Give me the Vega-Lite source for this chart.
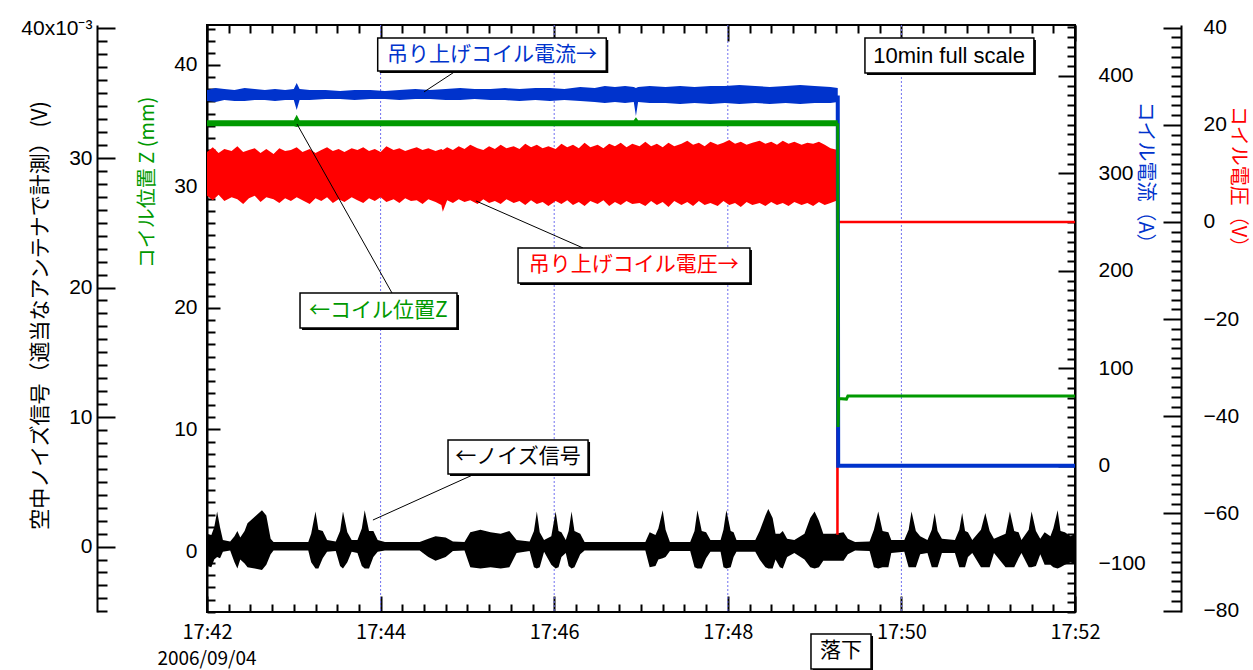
{
"$schema": "https://vega.github.io/schema/vega-lite/v6.json",
"width": 868, "height": 587,
"autosize": {"type": "none"},
"padding": {"left": 207, "top": 25, "right": 178, "bottom": 58},
"background": "white",
"config": {
  "view": {"stroke": "black", "strokeWidth": 2},
  "axis": {"labelFont": "Liberation Sans", "labelFontSize": 21, "labelColor": "black", "tickColor": "black", "tickWidth": 2, "domainColor": "black", "domainWidth": 2, "grid": false, "labelOverlap": false, "labelFlush": false, "labelBound": false, "titleFont": "Noto Sans CJK JP", "titleFontSize": 20, "titleFontWeight": "normal"}
},
"resolve": {"scale": {"y": "independent"}, "axis": {"x": "independent", "y": "independent"}},
"layer": [
{
  "data": {"values": [{"time": "2006-09-04T17:44:00"}, {"time": "2006-09-04T17:46:00"}, {"time": "2006-09-04T17:48:00"}, {"time": "2006-09-04T17:50:00"}], "format": {"parse": {"time": "date"}}},
  "mark": {"type": "rule", "color": "#7070f0", "strokeWidth": 1, "strokeDash": [2, 2]},
  "encoding": {"x": {"field": "time", "type": "temporal", "scale": {"domain": [{"year": 2006, "month": 9, "date": 4, "hours": 17, "minutes": 42}, {"year": 2006, "month": 9, "date": 4, "hours": 17, "minutes": 52}], "nice": false}, "axis": null}}
},
{
  "data": {"values": [
{"time":"2006-09-04T17:42:00","hi":1.0,"lo":-1.5},{"time":"2006-09-04T17:42:03","hi":0.9,"lo":-1.6},{"time":"2006-09-04T17:42:05","hi":1.5,"lo":-1.0},{"time":"2006-09-04T17:42:07","hi":2.7,"lo":-0.8},{"time":"2006-09-04T17:42:09","hi":1.5,"lo":-0.9},{"time":"2006-09-04T17:42:11","hi":0.5,"lo":-0.4},{"time":"2006-09-04T17:42:16","hi":0.4,"lo":-0.3},{"time":"2006-09-04T17:42:19","hi":0.8,"lo":-1.2},{"time":"2006-09-04T17:42:21","hi":1.2,"lo":-1.7},{"time":"2006-09-04T17:42:23","hi":0.7,"lo":-1.0},{"time":"2006-09-04T17:42:26","hi":1.2,"lo":-1.3},{"time":"2006-09-04T17:42:28","hi":1.8,"lo":-1.6},{"time":"2006-09-04T17:42:33","hi":2.3,"lo":-1.7},{"time":"2006-09-04T17:42:38","hi":2.8,"lo":-1.8},{"time":"2006-09-04T17:42:41","hi":2.4,"lo":-1.4},{"time":"2006-09-04T17:42:44","hi":0.6,"lo":-0.6},{"time":"2006-09-04T17:42:46","hi":0.35,"lo":-0.3},
{"time":"2006-09-04T17:43:10","hi":0.35,"lo":-0.3},{"time":"2006-09-04T17:43:12","hi":1.0,"lo":-1.2},{"time":"2006-09-04T17:43:15","hi":2.7,"lo":-1.7},{"time":"2006-09-04T17:43:17","hi":1.3,"lo":-1.7},{"time":"2006-09-04T17:43:20","hi":1.2,"lo":-0.9},{"time":"2006-09-04T17:43:23","hi":0.5,"lo":-0.4},{"time":"2006-09-04T17:43:29","hi":0.4,"lo":-0.35},{"time":"2006-09-04T17:43:32","hi":1.2,"lo":-1.5},{"time":"2006-09-04T17:43:34","hi":2.7,"lo":-1.7},{"time":"2006-09-04T17:43:37","hi":1.1,"lo":-1.2},{"time":"2006-09-04T17:43:40","hi":0.5,"lo":-0.4},{"time":"2006-09-04T17:43:44","hi":0.5,"lo":-0.5},{"time":"2006-09-04T17:43:47","hi":1.4,"lo":-1.5},{"time":"2006-09-04T17:43:49","hi":2.8,"lo":-1.7},{"time":"2006-09-04T17:43:52","hi":1.2,"lo":-1.7},{"time":"2006-09-04T17:43:55","hi":1.2,"lo":-0.8},{"time":"2006-09-04T17:43:58","hi":0.5,"lo":-0.4},
{"time":"2006-09-04T17:44:03","hi":0.35,"lo":-0.3},{"time":"2006-09-04T17:44:27","hi":0.35,"lo":-0.3},{"time":"2006-09-04T17:44:33","hi":0.6,"lo":-0.8},{"time":"2006-09-04T17:44:38","hi":0.8,"lo":-1.1},{"time":"2006-09-04T17:44:45","hi":0.7,"lo":-0.8},{"time":"2006-09-04T17:44:50","hi":0.4,"lo":-0.35},{"time":"2006-09-04T17:44:58","hi":0.35,"lo":-0.3},
{"time":"2006-09-04T17:45:02","hi":1.1,"lo":-1.6},{"time":"2006-09-04T17:45:09","hi":1.3,"lo":-1.7},{"time":"2006-09-04T17:45:16","hi":1.1,"lo":-1.6},{"time":"2006-09-04T17:45:23","hi":1.0,"lo":-1.7},{"time":"2006-09-04T17:45:29","hi":1.2,"lo":-1.6},{"time":"2006-09-04T17:45:34","hi":0.5,"lo":-0.5},{"time":"2006-09-04T17:45:43","hi":0.4,"lo":-0.35},{"time":"2006-09-04T17:45:46","hi":1.2,"lo":-1.6},{"time":"2006-09-04T17:45:48","hi":2.7,"lo":-1.7},{"time":"2006-09-04T17:45:50","hi":1.1,"lo":-1.6},{"time":"2006-09-04T17:45:53","hi":0.5,"lo":-0.4},{"time":"2006-09-04T17:45:58","hi":0.8,"lo":-1.4},
{"time":"2006-09-04T17:46:01","hi":2.7,"lo":-1.7},{"time":"2006-09-04T17:46:03","hi":1.2,"lo":-1.6},{"time":"2006-09-04T17:46:05","hi":1.1,"lo":-0.8},{"time":"2006-09-04T17:46:08","hi":0.5,"lo":-0.5},{"time":"2006-09-04T17:46:10","hi":1.2,"lo":-1.5},{"time":"2006-09-04T17:46:12","hi":2.7,"lo":-1.7},{"time":"2006-09-04T17:46:14","hi":1.2,"lo":-1.6},{"time":"2006-09-04T17:46:18","hi":1.0,"lo":-0.6},{"time":"2006-09-04T17:46:21","hi":0.35,"lo":-0.3},
{"time":"2006-09-04T17:47:03","hi":0.35,"lo":-0.3},{"time":"2006-09-04T17:47:06","hi":1.1,"lo":-1.6},{"time":"2006-09-04T17:47:10","hi":0.9,"lo":-1.5},{"time":"2006-09-04T17:47:12","hi":1.4,"lo":-1.0},{"time":"2006-09-04T17:47:15","hi":2.8,"lo":-0.9},{"time":"2006-09-04T17:47:17","hi":1.3,"lo":-0.8},{"time":"2006-09-04T17:47:20","hi":0.35,"lo":-0.35},{"time":"2006-09-04T17:47:34","hi":0.35,"lo":-0.35},{"time":"2006-09-04T17:47:37","hi":1.2,"lo":-1.6},{"time":"2006-09-04T17:47:39","hi":2.8,"lo":-1.7},{"time":"2006-09-04T17:47:42","hi":1.2,"lo":-1.7},{"time":"2006-09-04T17:47:45","hi":1.1,"lo":-0.9},{"time":"2006-09-04T17:47:48","hi":0.5,"lo":-0.4},{"time":"2006-09-04T17:47:55","hi":0.5,"lo":-0.4},{"time":"2006-09-04T17:47:57","hi":1.3,"lo":-1.6},{"time":"2006-09-04T17:47:59","hi":2.8,"lo":-1.7},
{"time":"2006-09-04T17:48:02","hi":1.2,"lo":-1.6},{"time":"2006-09-04T17:48:04","hi":1.1,"lo":-0.8},{"time":"2006-09-04T17:48:06","hi":0.5,"lo":-0.4},{"time":"2006-09-04T17:48:19","hi":0.5,"lo":-0.4},{"time":"2006-09-04T17:48:22","hi":1.2,"lo":-1.0},{"time":"2006-09-04T17:48:26","hi":2.4,"lo":-1.6},{"time":"2006-09-04T17:48:28","hi":2.9,"lo":-1.7},{"time":"2006-09-04T17:48:31","hi":2.2,"lo":-1.7},{"time":"2006-09-04T17:48:33","hi":1.0,"lo":-1.0},{"time":"2006-09-04T17:48:36","hi":1.0,"lo":-1.6},{"time":"2006-09-04T17:48:38","hi":1.2,"lo":-1.7},{"time":"2006-09-04T17:48:41","hi":0.6,"lo":-0.8},{"time":"2006-09-04T17:48:46","hi":0.5,"lo":-0.5},{"time":"2006-09-04T17:48:53","hi":1.0,"lo":-1.0},{"time":"2006-09-04T17:48:57","hi":2.2,"lo":-1.6},
{"time":"2006-09-04T17:49:00","hi":2.7,"lo":-1.7},{"time":"2006-09-04T17:49:03","hi":2.0,"lo":-1.6},{"time":"2006-09-04T17:49:06","hi":1.0,"lo":-1.1},{"time":"2006-09-04T17:49:14","hi":1.0,"lo":-1.1},{"time":"2006-09-04T17:49:20","hi":1.1,"lo":-1.1},{"time":"2006-09-04T17:49:23","hi":0.6,"lo":-0.6},{"time":"2006-09-04T17:49:28","hi":0.35,"lo":-0.3},{"time":"2006-09-04T17:49:38","hi":0.4,"lo":-0.35},{"time":"2006-09-04T17:49:41","hi":1.3,"lo":-1.6},{"time":"2006-09-04T17:49:44","hi":2.7,"lo":-1.7},{"time":"2006-09-04T17:49:47","hi":1.2,"lo":-1.6},{"time":"2006-09-04T17:49:51","hi":1.1,"lo":-1.6},{"time":"2006-09-04T17:49:53","hi":0.5,"lo":-0.5},
{"time":"2006-09-04T17:50:02","hi":0.5,"lo":-0.4},{"time":"2006-09-04T17:50:05","hi":1.3,"lo":-1.6},{"time":"2006-09-04T17:50:07","hi":2.7,"lo":-1.6},{"time":"2006-09-04T17:50:10","hi":1.2,"lo":-1.6},{"time":"2006-09-04T17:50:13","hi":0.8,"lo":-0.6},{"time":"2006-09-04T17:50:18","hi":0.5,"lo":-0.5},{"time":"2006-09-04T17:50:21","hi":1.3,"lo":-1.6},{"time":"2006-09-04T17:50:23","hi":2.6,"lo":-1.6},{"time":"2006-09-04T17:50:25","hi":1.2,"lo":-1.6},{"time":"2006-09-04T17:50:28","hi":0.6,"lo":-0.5},{"time":"2006-09-04T17:50:37","hi":0.5,"lo":-0.5},{"time":"2006-09-04T17:50:40","hi":1.3,"lo":-1.6},{"time":"2006-09-04T17:50:42","hi":2.6,"lo":-1.6},{"time":"2006-09-04T17:50:44","hi":1.2,"lo":-1.6},{"time":"2006-09-04T17:50:46","hi":1.1,"lo":-0.8},{"time":"2006-09-04T17:50:49","hi":0.5,"lo":-0.5},{"time":"2006-09-04T17:50:55","hi":1.3,"lo":-1.6},{"time":"2006-09-04T17:50:58","hi":2.6,"lo":-1.6},
{"time":"2006-09-04T17:51:01","hi":1.2,"lo":-1.6},{"time":"2006-09-04T17:51:04","hi":0.6,"lo":-0.5},{"time":"2006-09-04T17:51:12","hi":1.0,"lo":-1.6},{"time":"2006-09-04T17:51:15","hi":2.7,"lo":-1.6},{"time":"2006-09-04T17:51:18","hi":1.2,"lo":-1.6},{"time":"2006-09-04T17:51:21","hi":1.1,"lo":-0.9},{"time":"2006-09-04T17:51:23","hi":0.5,"lo":-0.5},{"time":"2006-09-04T17:51:28","hi":1.3,"lo":-1.6},{"time":"2006-09-04T17:51:30","hi":2.7,"lo":-1.6},{"time":"2006-09-04T17:51:33","hi":1.2,"lo":-1.5},{"time":"2006-09-04T17:51:36","hi":0.6,"lo":-0.6},{"time":"2006-09-04T17:51:39","hi":1.1,"lo":-1.4},{"time":"2006-09-04T17:51:43","hi":0.8,"lo":-1.4},{"time":"2006-09-04T17:51:45","hi":1.4,"lo":-1.6},{"time":"2006-09-04T17:51:48","hi":2.8,"lo":-1.7},{"time":"2006-09-04T17:51:50","hi":1.2,"lo":-1.6},{"time":"2006-09-04T17:51:53","hi":1.1,"lo":-1.4},{"time":"2006-09-04T17:51:57","hi":0.8,"lo":-1.2},{"time":"2006-09-04T17:52:00","hi":1.0,"lo":-1.4}
  ], "format": {"parse": {"time": "date"}}},
  "mark": {"type": "area", "color": "black"},
  "encoding": {
    "x": {"field": "time", "type": "temporal", "scale": {"domain": [{"year": 2006, "month": 9, "date": 4, "hours": 17, "minutes": 42}, {"year": 2006, "month": 9, "date": 4, "hours": 17, "minutes": 52}], "nice": false},
      "axis": {"orient": "bottom", "title": null, "domain": false,
        "values": [{"year":2006,"month":9,"date":4,"hours":17,"minutes":42,"seconds":0},{"year":2006,"month":9,"date":4,"hours":17,"minutes":42,"seconds":15},{"year":2006,"month":9,"date":4,"hours":17,"minutes":42,"seconds":30},{"year":2006,"month":9,"date":4,"hours":17,"minutes":42,"seconds":45},{"year":2006,"month":9,"date":4,"hours":17,"minutes":43,"seconds":0},{"year":2006,"month":9,"date":4,"hours":17,"minutes":43,"seconds":15},{"year":2006,"month":9,"date":4,"hours":17,"minutes":43,"seconds":30},{"year":2006,"month":9,"date":4,"hours":17,"minutes":43,"seconds":45},{"year":2006,"month":9,"date":4,"hours":17,"minutes":44,"seconds":0},{"year":2006,"month":9,"date":4,"hours":17,"minutes":44,"seconds":15},{"year":2006,"month":9,"date":4,"hours":17,"minutes":44,"seconds":30},{"year":2006,"month":9,"date":4,"hours":17,"minutes":44,"seconds":45},{"year":2006,"month":9,"date":4,"hours":17,"minutes":45,"seconds":0},{"year":2006,"month":9,"date":4,"hours":17,"minutes":45,"seconds":15},{"year":2006,"month":9,"date":4,"hours":17,"minutes":45,"seconds":30},{"year":2006,"month":9,"date":4,"hours":17,"minutes":45,"seconds":45},{"year":2006,"month":9,"date":4,"hours":17,"minutes":46,"seconds":0},{"year":2006,"month":9,"date":4,"hours":17,"minutes":46,"seconds":15},{"year":2006,"month":9,"date":4,"hours":17,"minutes":46,"seconds":30},{"year":2006,"month":9,"date":4,"hours":17,"minutes":46,"seconds":45},{"year":2006,"month":9,"date":4,"hours":17,"minutes":47,"seconds":0},{"year":2006,"month":9,"date":4,"hours":17,"minutes":47,"seconds":15},{"year":2006,"month":9,"date":4,"hours":17,"minutes":47,"seconds":30},{"year":2006,"month":9,"date":4,"hours":17,"minutes":47,"seconds":45},{"year":2006,"month":9,"date":4,"hours":17,"minutes":48,"seconds":0},{"year":2006,"month":9,"date":4,"hours":17,"minutes":48,"seconds":15},{"year":2006,"month":9,"date":4,"hours":17,"minutes":48,"seconds":30},{"year":2006,"month":9,"date":4,"hours":17,"minutes":48,"seconds":45},{"year":2006,"month":9,"date":4,"hours":17,"minutes":49,"seconds":0},{"year":2006,"month":9,"date":4,"hours":17,"minutes":49,"seconds":15},{"year":2006,"month":9,"date":4,"hours":17,"minutes":49,"seconds":30},{"year":2006,"month":9,"date":4,"hours":17,"minutes":49,"seconds":45},{"year":2006,"month":9,"date":4,"hours":17,"minutes":50,"seconds":0},{"year":2006,"month":9,"date":4,"hours":17,"minutes":50,"seconds":15},{"year":2006,"month":9,"date":4,"hours":17,"minutes":50,"seconds":30},{"year":2006,"month":9,"date":4,"hours":17,"minutes":50,"seconds":45},{"year":2006,"month":9,"date":4,"hours":17,"minutes":51,"seconds":0},{"year":2006,"month":9,"date":4,"hours":17,"minutes":51,"seconds":15},{"year":2006,"month":9,"date":4,"hours":17,"minutes":51,"seconds":30},{"year":2006,"month":9,"date":4,"hours":17,"minutes":51,"seconds":45},{"year":2006,"month":9,"date":4,"hours":17,"minutes":52,"seconds":0}],
        "tickSize": {"condition": {"test": "seconds(datum.value) === 0 && minutes(datum.value) % 2 === 0", "value": -16}, "value": -8}, "labelPadding": 26, "labelFont": "Noto Sans CJK JP", "labelFontSize": 20,
        "labelExpr": "(seconds(datum.value) === 0 && minutes(datum.value) % 2 === 0) ? timeFormat(datum.value, '%H:%M') : ''"}},
    "y": {"field": "hi", "type": "quantitative", "scale": {"domain": [-5.05, 40.27], "nice": false, "zero": false},
      "axis": {"orient": "left", "offset": 110, "values": [-5,-4,-3,-2,-1,0,1,2,3,4,5,6,7,8,9,10,11,12,13,14,15,16,17,18,19,20,21,22,23,24,25,26,27,28,29,30,31,32,33,34,35,36,37,38,39,40], "labelExpr": "datum.value % 10 !== 0 ? '' : (datum.value === 40 ? '40x10⁻³' : datum.label)", "tickSize": {"condition": {"test": "datum.value % 10 === 0", "value": -18}, "value": -10}, "labelPadding": 23, "title": "空中ノイズ信号（適当なアンテナで計測） (V)", "titleColor": "black", "titleFontSize": 21, "titleX": -57, "titleY": 290, "titleBaseline": "middle", "titleAngle": -90}},
    "y2": {"field": "lo"}
  }
},
{
  "data": {"values": [
{"time":"2006-09-04T17:42:00","hi":14.4,"lo":5.4},{"time":"2006-09-04T17:42:04","hi":15.4,"lo":4.5},{"time":"2006-09-04T17:42:08","hi":14.2,"lo":5.6},{"time":"2006-09-04T17:42:12","hi":15.0,"lo":4.3},{"time":"2006-09-04T17:42:17","hi":14.6,"lo":5.1},{"time":"2006-09-04T17:42:21","hi":15.6,"lo":4.7},{"time":"2006-09-04T17:42:25","hi":14.4,"lo":3.7},{"time":"2006-09-04T17:42:29","hi":14.8,"lo":4.9},{"time":"2006-09-04T17:42:33","hi":15.2,"lo":5.4},{"time":"2006-09-04T17:42:37","hi":14.2,"lo":4.1},{"time":"2006-09-04T17:42:41","hi":15.0,"lo":5.1},{"time":"2006-09-04T17:42:46","hi":14.0,"lo":4.7},{"time":"2006-09-04T17:42:50","hi":15.2,"lo":3.9},{"time":"2006-09-04T17:42:54","hi":14.6,"lo":4.9},{"time":"2006-09-04T17:42:58","hi":14.8,"lo":4.3},
{"time":"2006-09-04T17:43:02","hi":15.4,"lo":5.1},{"time":"2006-09-04T17:43:06","hi":14.4,"lo":4.5},{"time":"2006-09-04T17:43:11","hi":15.0,"lo":3.7},{"time":"2006-09-04T17:43:15","hi":14.2,"lo":4.9},{"time":"2006-09-04T17:43:19","hi":14.8,"lo":4.3},{"time":"2006-09-04T17:43:23","hi":15.4,"lo":5.1},{"time":"2006-09-04T17:43:27","hi":14.6,"lo":3.9},{"time":"2006-09-04T17:43:31","hi":15.0,"lo":4.7},{"time":"2006-09-04T17:43:35","hi":14.4,"lo":4.1},{"time":"2006-09-04T17:43:40","hi":15.2,"lo":5.1},{"time":"2006-09-04T17:43:44","hi":14.8,"lo":4.5},{"time":"2006-09-04T17:43:48","hi":15.4,"lo":3.9},{"time":"2006-09-04T17:43:52","hi":14.6,"lo":4.9},{"time":"2006-09-04T17:43:56","hi":15.0,"lo":4.3},
{"time":"2006-09-04T17:44:00","hi":14.4,"lo":5.1},{"time":"2006-09-04T17:44:04","hi":15.6,"lo":4.1},{"time":"2006-09-04T17:44:09","hi":14.8,"lo":4.7},{"time":"2006-09-04T17:44:13","hi":15.2,"lo":3.9},{"time":"2006-09-04T17:44:17","hi":14.6,"lo":4.9},{"time":"2006-09-04T17:44:21","hi":15.0,"lo":4.3},{"time":"2006-09-04T17:44:25","hi":15.4,"lo":4.5},{"time":"2006-09-04T17:44:29","hi":14.8,"lo":3.7},{"time":"2006-09-04T17:44:33","hi":15.2,"lo":4.7},{"time":"2006-09-04T17:44:38","hi":14.6,"lo":4.1},{"time":"2006-09-04T17:44:42","hi":15.0,"lo":3.5},{"time":"2006-09-04T17:44:43","hi":14.8,"lo":2.1},{"time":"2006-09-04T17:44:46","hi":15.4,"lo":4.5},{"time":"2006-09-04T17:44:50","hi":14.8,"lo":3.9},{"time":"2006-09-04T17:44:54","hi":15.6,"lo":4.7},{"time":"2006-09-04T17:44:58","hi":15.0,"lo":4.1},
{"time":"2006-09-04T17:45:02","hi":15.9,"lo":4.5},{"time":"2006-09-04T17:45:07","hi":15.2,"lo":3.7},{"time":"2006-09-04T17:45:11","hi":14.8,"lo":4.7},{"time":"2006-09-04T17:45:15","hi":15.6,"lo":3.9},{"time":"2006-09-04T17:45:19","hi":15.0,"lo":4.3},{"time":"2006-09-04T17:45:23","hi":15.9,"lo":3.7},{"time":"2006-09-04T17:45:27","hi":15.2,"lo":4.7},{"time":"2006-09-04T17:45:32","hi":15.6,"lo":3.9},{"time":"2006-09-04T17:45:36","hi":15.0,"lo":4.3},{"time":"2006-09-04T17:45:40","hi":16.1,"lo":3.5},{"time":"2006-09-04T17:45:44","hi":15.4,"lo":4.5},{"time":"2006-09-04T17:45:48","hi":15.9,"lo":3.7},{"time":"2006-09-04T17:45:52","hi":15.2,"lo":4.1},{"time":"2006-09-04T17:45:56","hi":15.6,"lo":3.3},
{"time":"2006-09-04T17:46:01","hi":15.0,"lo":4.3},{"time":"2006-09-04T17:46:05","hi":16.1,"lo":3.7},{"time":"2006-09-04T17:46:09","hi":15.4,"lo":4.5},{"time":"2006-09-04T17:46:13","hi":15.9,"lo":3.5},{"time":"2006-09-04T17:46:17","hi":15.2,"lo":4.1},{"time":"2006-09-04T17:46:21","hi":16.3,"lo":3.3},{"time":"2006-09-04T17:46:25","hi":15.4,"lo":4.3},{"time":"2006-09-04T17:46:30","hi":15.9,"lo":3.7},{"time":"2006-09-04T17:46:34","hi":15.2,"lo":4.5},{"time":"2006-09-04T17:46:38","hi":16.1,"lo":3.3},{"time":"2006-09-04T17:46:42","hi":15.6,"lo":4.1},{"time":"2006-09-04T17:46:46","hi":16.3,"lo":3.5},{"time":"2006-09-04T17:46:50","hi":15.4,"lo":4.3},{"time":"2006-09-04T17:46:54","hi":16.1,"lo":3.7},{"time":"2006-09-04T17:46:59","hi":15.6,"lo":3.9},
{"time":"2006-09-04T17:47:03","hi":16.5,"lo":3.3},{"time":"2006-09-04T17:47:07","hi":15.6,"lo":4.3},{"time":"2006-09-04T17:47:11","hi":16.1,"lo":3.5},{"time":"2006-09-04T17:47:15","hi":15.4,"lo":4.1},{"time":"2006-09-04T17:47:19","hi":16.3,"lo":3.1},{"time":"2006-09-04T17:47:23","hi":15.6,"lo":4.3},{"time":"2006-09-04T17:47:28","hi":16.1,"lo":3.5},{"time":"2006-09-04T17:47:32","hi":16.7,"lo":4.1},{"time":"2006-09-04T17:47:36","hi":15.9,"lo":3.3},{"time":"2006-09-04T17:47:40","hi":16.3,"lo":4.3},{"time":"2006-09-04T17:47:44","hi":15.6,"lo":3.5},{"time":"2006-09-04T17:47:48","hi":16.5,"lo":3.9},{"time":"2006-09-04T17:47:53","hi":15.9,"lo":3.3},{"time":"2006-09-04T17:47:57","hi":16.3,"lo":4.3},
{"time":"2006-09-04T17:48:01","hi":16.9,"lo":3.5},{"time":"2006-09-04T17:48:05","hi":16.1,"lo":3.9},{"time":"2006-09-04T17:48:09","hi":16.5,"lo":3.1},{"time":"2006-09-04T17:48:13","hi":15.9,"lo":4.1},{"time":"2006-09-04T17:48:17","hi":16.3,"lo":3.5},{"time":"2006-09-04T17:48:22","hi":16.7,"lo":3.9},{"time":"2006-09-04T17:48:26","hi":16.1,"lo":3.3},{"time":"2006-09-04T17:48:30","hi":16.5,"lo":4.1},{"time":"2006-09-04T17:48:34","hi":15.9,"lo":3.5},{"time":"2006-09-04T17:48:38","hi":16.7,"lo":3.9},{"time":"2006-09-04T17:48:42","hi":16.1,"lo":3.3},{"time":"2006-09-04T17:48:46","hi":16.5,"lo":4.1},{"time":"2006-09-04T17:48:51","hi":15.9,"lo":3.5},{"time":"2006-09-04T17:48:55","hi":16.3,"lo":3.9},{"time":"2006-09-04T17:48:59","hi":16.1,"lo":3.3},
{"time":"2006-09-04T17:49:03","hi":16.5,"lo":4.1},{"time":"2006-09-04T17:49:07","hi":15.9,"lo":3.5},{"time":"2006-09-04T17:49:11","hi":15.2,"lo":3.9},{"time":"2006-09-04T17:49:16","hi":14.8,"lo":4.5}
  ], "format": {"parse": {"time": "date"}}},
  "mark": {"type": "area", "color": "#ff0000"},
  "encoding": {
    "x": {"field": "time", "type": "temporal", "scale": {"domain": [{"year": 2006, "month": 9, "date": 4, "hours": 17, "minutes": 42}, {"year": 2006, "month": 9, "date": 4, "hours": 17, "minutes": 52}], "nice": false},
      "axis": {"orient": "top", "title": null, "domain": false, "labels": false,
        "values": [{"year":2006,"month":9,"date":4,"hours":17,"minutes":42,"seconds":0},{"year":2006,"month":9,"date":4,"hours":17,"minutes":42,"seconds":15},{"year":2006,"month":9,"date":4,"hours":17,"minutes":42,"seconds":30},{"year":2006,"month":9,"date":4,"hours":17,"minutes":42,"seconds":45},{"year":2006,"month":9,"date":4,"hours":17,"minutes":43,"seconds":0},{"year":2006,"month":9,"date":4,"hours":17,"minutes":43,"seconds":15},{"year":2006,"month":9,"date":4,"hours":17,"minutes":43,"seconds":30},{"year":2006,"month":9,"date":4,"hours":17,"minutes":43,"seconds":45},{"year":2006,"month":9,"date":4,"hours":17,"minutes":44,"seconds":0},{"year":2006,"month":9,"date":4,"hours":17,"minutes":44,"seconds":15},{"year":2006,"month":9,"date":4,"hours":17,"minutes":44,"seconds":30},{"year":2006,"month":9,"date":4,"hours":17,"minutes":44,"seconds":45},{"year":2006,"month":9,"date":4,"hours":17,"minutes":45,"seconds":0},{"year":2006,"month":9,"date":4,"hours":17,"minutes":45,"seconds":15},{"year":2006,"month":9,"date":4,"hours":17,"minutes":45,"seconds":30},{"year":2006,"month":9,"date":4,"hours":17,"minutes":45,"seconds":45},{"year":2006,"month":9,"date":4,"hours":17,"minutes":46,"seconds":0},{"year":2006,"month":9,"date":4,"hours":17,"minutes":46,"seconds":15},{"year":2006,"month":9,"date":4,"hours":17,"minutes":46,"seconds":30},{"year":2006,"month":9,"date":4,"hours":17,"minutes":46,"seconds":45},{"year":2006,"month":9,"date":4,"hours":17,"minutes":47,"seconds":0},{"year":2006,"month":9,"date":4,"hours":17,"minutes":47,"seconds":15},{"year":2006,"month":9,"date":4,"hours":17,"minutes":47,"seconds":30},{"year":2006,"month":9,"date":4,"hours":17,"minutes":47,"seconds":45},{"year":2006,"month":9,"date":4,"hours":17,"minutes":48,"seconds":0},{"year":2006,"month":9,"date":4,"hours":17,"minutes":48,"seconds":15},{"year":2006,"month":9,"date":4,"hours":17,"minutes":48,"seconds":30},{"year":2006,"month":9,"date":4,"hours":17,"minutes":48,"seconds":45},{"year":2006,"month":9,"date":4,"hours":17,"minutes":49,"seconds":0},{"year":2006,"month":9,"date":4,"hours":17,"minutes":49,"seconds":15},{"year":2006,"month":9,"date":4,"hours":17,"minutes":49,"seconds":30},{"year":2006,"month":9,"date":4,"hours":17,"minutes":49,"seconds":45},{"year":2006,"month":9,"date":4,"hours":17,"minutes":50,"seconds":0},{"year":2006,"month":9,"date":4,"hours":17,"minutes":50,"seconds":15},{"year":2006,"month":9,"date":4,"hours":17,"minutes":50,"seconds":30},{"year":2006,"month":9,"date":4,"hours":17,"minutes":50,"seconds":45},{"year":2006,"month":9,"date":4,"hours":17,"minutes":51,"seconds":0},{"year":2006,"month":9,"date":4,"hours":17,"minutes":51,"seconds":15},{"year":2006,"month":9,"date":4,"hours":17,"minutes":51,"seconds":30},{"year":2006,"month":9,"date":4,"hours":17,"minutes":51,"seconds":45},{"year":2006,"month":9,"date":4,"hours":17,"minutes":52,"seconds":0}],
        "tickSize": {"condition": {"test": "seconds(datum.value) === 0 && minutes(datum.value) % 2 === 0", "value": -16}, "value": -8}}},
    "y": {"field": "hi", "type": "quantitative", "scale": {"domain": [-80.28, 40.55], "nice": false, "zero": false},
      "axis": {"orient": "right", "offset": 106, "values": [-80,-78,-76,-74,-72,-70,-68,-66,-64,-62,-60,-58,-56,-54,-52,-50,-48,-46,-44,-42,-40,-38,-36,-34,-32,-30,-28,-26,-24,-22,-20,-18,-16,-14,-12,-10,-8,-6,-4,-2,0,2,4,6,8,10,12,14,16,18,20,22,24,26,28,30,32,34,36,38,40], "labelExpr": "datum.value % 20 !== 0 ? '' : datum.label", "tickSize": {"condition": {"test": "datum.value % 20 === 0", "value": -18}, "value": -10}, "labelPadding": 40, "title": "コイル電圧（V）", "titleColor": "#ff0000", "titleX": 56, "titleY": 156, "titleBaseline": "middle", "titleAngle": 90}},
    "y2": {"field": "lo"}
  }
},
{
  "data": {"values": [
{"time":"2006-09-04T17:49:15.600","value":9.0},{"time":"2006-09-04T17:49:15.800","value":-64.4},{"time":"2006-09-04T17:49:16.000","value":0},{"time":"2006-09-04T17:52:00","value":0}
  ], "format": {"parse": {"time": "date"}}},
  "mark": {"type": "line", "color": "#ff0000", "strokeWidth": 2.5},
  "encoding": {
    "x": {"field": "time", "type": "temporal", "scale": {"domain": [{"year": 2006, "month": 9, "date": 4, "hours": 17, "minutes": 42}, {"year": 2006, "month": 9, "date": 4, "hours": 17, "minutes": 52}], "nice": false}, "axis": null},
    "y": {"field": "value", "type": "quantitative", "scale": {"domain": [-80.28, 40.55], "nice": false, "zero": false}, "axis": null}
  }
},
{
  "data": {"values": [
{"time":"2006-09-04T17:42:00","hi":385.6,"lo":374.3},{"time":"2006-09-04T17:42:06","hi":387.6,"lo":373.3},{"time":"2006-09-04T17:42:12","hi":386.6,"lo":375.3},{"time":"2006-09-04T17:42:19","hi":385.6,"lo":374.3},{"time":"2006-09-04T17:42:26","hi":387.6,"lo":374.3},{"time":"2006-09-04T17:42:33","hi":386.6,"lo":375.3},{"time":"2006-09-04T17:42:40","hi":385.6,"lo":375.3},{"time":"2006-09-04T17:42:47","hi":386.6,"lo":374.3},{"time":"2006-09-04T17:42:54","hi":385.6,"lo":375.3},
{"time":"2006-09-04T17:43:00","hi":386.6,"lo":375.3},{"time":"2006-09-04T17:43:02","hi":392.8,"lo":365.1},{"time":"2006-09-04T17:43:04","hi":386.6,"lo":375.3},{"time":"2006-09-04T17:43:11","hi":385.6,"lo":375.3},{"time":"2006-09-04T17:43:22","hi":385.6,"lo":376.4},{"time":"2006-09-04T17:43:32","hi":384.6,"lo":376.4},{"time":"2006-09-04T17:43:42","hi":385.6,"lo":375.3},{"time":"2006-09-04T17:43:53","hi":385.6,"lo":376.4},
{"time":"2006-09-04T17:44:03","hi":384.6,"lo":376.4},{"time":"2006-09-04T17:44:13","hi":385.6,"lo":375.3},{"time":"2006-09-04T17:44:24","hi":386.6,"lo":376.4},{"time":"2006-09-04T17:44:34","hi":385.6,"lo":376.4},{"time":"2006-09-04T17:44:45","hi":386.6,"lo":375.3},{"time":"2006-09-04T17:44:55","hi":387.6,"lo":375.3},
{"time":"2006-09-04T17:45:05","hi":386.6,"lo":376.4},{"time":"2006-09-04T17:45:16","hi":386.6,"lo":375.3},{"time":"2006-09-04T17:45:26","hi":387.6,"lo":375.3},{"time":"2006-09-04T17:45:36","hi":386.6,"lo":374.3},{"time":"2006-09-04T17:45:47","hi":387.6,"lo":375.3},{"time":"2006-09-04T17:45:57","hi":387.6,"lo":374.3},
{"time":"2006-09-04T17:46:07","hi":386.6,"lo":375.3},{"time":"2006-09-04T17:46:18","hi":388.7,"lo":374.3},{"time":"2006-09-04T17:46:28","hi":387.6,"lo":373.3},{"time":"2006-09-04T17:46:35","hi":389.7,"lo":372.3},{"time":"2006-09-04T17:46:42","hi":388.7,"lo":373.3},{"time":"2006-09-04T17:46:49","hi":389.7,"lo":372.3},{"time":"2006-09-04T17:46:55","hi":388.7,"lo":373.3},{"time":"2006-09-04T17:46:56.500","hi":387.6,"lo":359.0},{"time":"2006-09-04T17:46:58","hi":388.7,"lo":373.3},
{"time":"2006-09-04T17:47:06","hi":389.7,"lo":372.3},{"time":"2006-09-04T17:47:17","hi":388.7,"lo":372.3},{"time":"2006-09-04T17:47:27","hi":389.7,"lo":371.3},{"time":"2006-09-04T17:47:37","hi":388.7,"lo":372.3},{"time":"2006-09-04T17:47:48","hi":389.7,"lo":371.3},{"time":"2006-09-04T17:47:58","hi":389.7,"lo":372.3},
{"time":"2006-09-04T17:48:08","hi":390.7,"lo":371.3},{"time":"2006-09-04T17:48:19","hi":389.7,"lo":372.3},{"time":"2006-09-04T17:48:29","hi":388.7,"lo":371.3},{"time":"2006-09-04T17:48:40","hi":389.7,"lo":372.3},{"time":"2006-09-04T17:48:50","hi":390.7,"lo":371.3},
{"time":"2006-09-04T17:49:00","hi":389.7,"lo":372.3},{"time":"2006-09-04T17:49:11","hi":388.7,"lo":372.3},{"time":"2006-09-04T17:49:16","hi":387.6,"lo":373.3}
  ], "format": {"parse": {"time": "date"}}},
  "mark": {"type": "area", "color": "#0033cc"},
  "encoding": {
    "x": {"field": "time", "type": "temporal", "scale": {"domain": [{"year": 2006, "month": 9, "date": 4, "hours": 17, "minutes": 42}, {"year": 2006, "month": 9, "date": 4, "hours": 17, "minutes": 52}], "nice": false}, "axis": null},
    "y": {"field": "hi", "type": "quantitative", "scale": {"domain": [-150, 452.3], "nice": false, "zero": false},
      "axis": {"orient": "right", "offset": 0, "values": [-150,-140,-130,-120,-110,-100,-90,-80,-70,-60,-50,-40,-30,-20,-10,0,10,20,30,40,50,60,70,80,90,100,110,120,130,140,150,160,170,180,190,200,210,220,230,240,250,260,270,280,290,300,310,320,330,340,350,360,370,380,390,400,410,420,430,440,450], "labelExpr": "datum.value % 100 !== 0 ? '' : datum.label", "tickSize": {"condition": {"test": "datum.value % 100 === 0", "value": -17}, "value": -8}, "labelPadding": 40, "title": "コイル電流（A）", "titleColor": "#0033cc", "titleX": 69, "titleY": 152, "titleBaseline": "middle", "titleAngle": 90}},
    "y2": {"field": "lo"}
  }
},
{
  "data": {"values": [
{"time":"2006-09-04T17:49:16.000","value":380},{"time":"2006-09-04T17:49:16.300","value":0},{"time":"2006-09-04T17:52:00","value":0}
  ], "format": {"parse": {"time": "date"}}},
  "mark": {"type": "line", "color": "#0033cc", "strokeWidth": 4},
  "encoding": {
    "x": {"field": "time", "type": "temporal", "scale": {"domain": [{"year": 2006, "month": 9, "date": 4, "hours": 17, "minutes": 42}, {"year": 2006, "month": 9, "date": 4, "hours": 17, "minutes": 52}], "nice": false}, "axis": null},
    "y": {"field": "value", "type": "quantitative", "scale": {"domain": [-150, 452.3], "nice": false, "zero": false}, "axis": null}
  }
},
{
  "data": {"values": [
{"time":"2006-09-04T17:42:00","hi":35.45,"lo":34.95},{"time":"2006-09-04T17:43:00","hi":35.45,"lo":34.95},{"time":"2006-09-04T17:43:02","hi":35.9,"lo":34.9},{"time":"2006-09-04T17:43:04","hi":35.45,"lo":34.95},{"time":"2006-09-04T17:46:55","hi":35.45,"lo":34.95},{"time":"2006-09-04T17:46:56.500","hi":35.7,"lo":34.95},{"time":"2006-09-04T17:46:58","hi":35.45,"lo":34.95},{"time":"2006-09-04T17:49:16","hi":35.45,"lo":34.95}
  ], "format": {"parse": {"time": "date"}}},
  "mark": {"type": "area", "color": "#009900"},
  "encoding": {
    "x": {"field": "time", "type": "temporal", "scale": {"domain": [{"year": 2006, "month": 9, "date": 4, "hours": 17, "minutes": 42}, {"year": 2006, "month": 9, "date": 4, "hours": 17, "minutes": 52}], "nice": false}, "axis": null},
    "y": {"field": "hi", "type": "quantitative", "scale": {"domain": [-5.02, 43.29], "nice": false, "zero": false},
      "axis": {"orient": "left", "offset": 0, "values": [-5,-4,-3,-2,-1,0,1,2,3,4,5,6,7,8,9,10,11,12,13,14,15,16,17,18,19,20,21,22,23,24,25,26,27,28,29,30,31,32,33,34,35,36,37,38,39,40,41,42,43], "labelExpr": "datum.value % 10 !== 0 ? '' : datum.label", "tickSize": {"condition": {"test": "datum.value % 10 === 0", "value": -13}, "value": -8}, "labelPadding": 23, "title": "コイル位置 Z (mm)", "titleColor": "#009900", "titleX": -60, "titleY": 157, "titleBaseline": "middle", "titleAngle": -90}},
    "y2": {"field": "lo"}
  }
},
{
  "data": {"values": [
{"time":"2006-09-04T17:49:16.000","value":35.2},{"time":"2006-09-04T17:49:16.200","value":10.2},{"time":"2006-09-04T17:49:16.600","value":12.55},{"time":"2006-09-04T17:49:22","value":12.5},{"time":"2006-09-04T17:49:23","value":12.75},{"time":"2006-09-04T17:52:00","value":12.75}
  ], "format": {"parse": {"time": "date"}}},
  "mark": {"type": "line", "color": "#009900", "strokeWidth": 3},
  "encoding": {
    "x": {"field": "time", "type": "temporal", "scale": {"domain": [{"year": 2006, "month": 9, "date": 4, "hours": 17, "minutes": 42}, {"year": 2006, "month": 9, "date": 4, "hours": 17, "minutes": 52}], "nice": false}, "axis": null},
    "y": {"field": "value", "type": "quantitative", "scale": {"domain": [-5.02, 43.29], "nice": false, "zero": false}, "axis": null}
  }
},
{
  "data": {"values": [
{"time":"2006-09-04T17:44:52.100","time2":"2006-09-04T17:44:30","from":39.51,"to":37.78},
{"time":"2006-09-04T17:44:07.900","time2":"2006-09-04T17:43:02.200","from":21.23,"to":35.14},
{"time":"2006-09-04T17:46:19.900","time2":"2006-09-04T17:45:05.900","from":24.94,"to":28.81},
{"time":"2006-09-04T17:45:05.200","time2":"2006-09-04T17:43:54.700","from":6.34,"to":2.55}
  ], "format": {"parse": {"time": "date", "time2": "date"}}},
  "mark": {"type": "rule", "color": "black", "strokeWidth": 1},
  "encoding": {
    "x": {"field": "time", "type": "temporal", "scale": {"domain": [{"year": 2006, "month": 9, "date": 4, "hours": 17, "minutes": 42}, {"year": 2006, "month": 9, "date": 4, "hours": 17, "minutes": 52}], "nice": false}, "axis": null},
    "x2": {"field": "time2"},
    "y": {"field": "from", "type": "quantitative", "scale": {"domain": [-5.02, 43.29], "nice": false, "zero": false}, "axis": null},
    "y2": {"field": "to"}
  }
},
{
  "data": {"values": [
{"time":"2006-09-04T17:43:58","time2":"2006-09-04T17:46:36","top":42.22,"bottom":39.51},
{"time":"2006-09-04T17:49:34.800","time2":"2006-09-04T17:51:31.600","top":42.22,"bottom":39.34},
{"time":"2006-09-04T17:45:35","time2":"2006-09-04T17:48:15.300","top":24.94,"bottom":22.06},
{"time":"2006-09-04T17:43:04.300","time2":"2006-09-04T17:44:52.800","top":21.23,"bottom":18.35},
{"time":"2006-09-04T17:44:46.600","time2":"2006-09-04T17:46:23.400","top":9.14,"bottom":6.34},
{"time":"2006-09-04T17:48:57.500","time2":"2006-09-04T17:49:39","top":-6.83,"bottom":-9.71}
  ], "format": {"parse": {"time": "date", "time2": "date"}}},
  "mark": {"type": "rect", "color": "black", "xOffset": 2, "x2Offset": 2, "yOffset": 2, "y2Offset": 2},
  "encoding": {
    "x": {"field": "time", "type": "temporal", "scale": {"domain": [{"year": 2006, "month": 9, "date": 4, "hours": 17, "minutes": 42}, {"year": 2006, "month": 9, "date": 4, "hours": 17, "minutes": 52}], "nice": false}, "axis": null},
    "x2": {"field": "time2"},
    "y": {"field": "top", "type": "quantitative", "scale": {"domain": [-5.02, 43.29], "nice": false, "zero": false}, "axis": null},
    "y2": {"field": "bottom"}
  }
},
{
  "data": {"values": [
{"time":"2006-09-04T17:43:58","time2":"2006-09-04T17:46:36","top":42.22,"bottom":39.51},
{"time":"2006-09-04T17:49:34.800","time2":"2006-09-04T17:51:31.600","top":42.22,"bottom":39.34},
{"time":"2006-09-04T17:45:35","time2":"2006-09-04T17:48:15.300","top":24.94,"bottom":22.06},
{"time":"2006-09-04T17:43:04.300","time2":"2006-09-04T17:44:52.800","top":21.23,"bottom":18.35},
{"time":"2006-09-04T17:44:46.600","time2":"2006-09-04T17:46:23.400","top":9.14,"bottom":6.34},
{"time":"2006-09-04T17:48:57.500","time2":"2006-09-04T17:49:39","top":-6.83,"bottom":-9.71}
  ], "format": {"parse": {"time": "date", "time2": "date"}}},
  "mark": {"type": "rect", "fill": "white", "stroke": "black", "strokeWidth": 1.5},
  "encoding": {
    "x": {"field": "time", "type": "temporal", "scale": {"domain": [{"year": 2006, "month": 9, "date": 4, "hours": 17, "minutes": 42}, {"year": 2006, "month": 9, "date": 4, "hours": 17, "minutes": 52}], "nice": false}, "axis": null},
    "x2": {"field": "time2"},
    "y": {"field": "top", "type": "quantitative", "scale": {"domain": [-5.02, 43.29], "nice": false, "zero": false}, "axis": null},
    "y2": {"field": "bottom"}
  }
},
{
  "data": {"values": [
{"time":"2006-09-04T17:45:17","value":40.86,"label":"吊り上げコイル電流→","series":"current"},
{"time":"2006-09-04T17:46:55","value":23.5,"label":"吊り上げコイル電圧→","series":"voltage"},
{"time":"2006-09-04T17:43:58.500","value":19.79,"label":"←コイル位置Z","series":"position"},
{"time":"2006-09-04T17:45:35","value":7.74,"label":"←ノイズ信号","series":"noise"},
{"time":"2006-09-04T17:49:18.300","value":-8.27,"label":"落下","series":"other"}
  ], "format": {"parse": {"time": "date"}}},
  "mark": {"type": "text", "font": "Noto Sans CJK JP", "fontSize": 21, "align": "center", "baseline": "middle"},
  "encoding": {
    "x": {"field": "time", "type": "temporal", "scale": {"domain": [{"year": 2006, "month": 9, "date": 4, "hours": 17, "minutes": 42}, {"year": 2006, "month": 9, "date": 4, "hours": 17, "minutes": 52}], "nice": false}, "axis": null},
    "y": {"field": "value", "type": "quantitative", "scale": {"domain": [-5.02, 43.29], "nice": false, "zero": false}, "axis": null},
    "text": {"field": "label"},
    "color": {"field": "series", "type": "nominal", "scale": {"domain": ["current", "voltage", "position", "noise", "other"], "range": ["#0033cc", "#ff0000", "#009900", "#000000", "#000000"]}, "legend": null}
  }
},
{
  "data": {"values": [
{"time":"2006-09-04T17:42:00","value":-8.85,"label":"2006/09/04"}
  ], "format": {"parse": {"time": "date"}}},
  "mark": {"type": "text", "font": "Noto Sans CJK JP", "fontSize": 19, "align": "center", "baseline": "middle", "color": "black"},
  "encoding": {
    "x": {"field": "time", "type": "temporal", "scale": {"domain": [{"year": 2006, "month": 9, "date": 4, "hours": 17, "minutes": 42}, {"year": 2006, "month": 9, "date": 4, "hours": 17, "minutes": 52}], "nice": false}, "axis": null},
    "y": {"field": "value", "type": "quantitative", "scale": {"domain": [-5.02, 43.29], "nice": false, "zero": false}, "axis": null},
    "text": {"field": "label"}
  }
},
{
  "data": {"values": [
{"time":"2006-09-04T17:50:33","value":40.74,"label":"10min full scale"}
  ], "format": {"parse": {"time": "date"}}},
  "mark": {"type": "text", "font": "Liberation Sans", "fontSize": 22, "align": "center", "baseline": "middle", "color": "black"},
  "encoding": {
    "x": {"field": "time", "type": "temporal", "scale": {"domain": [{"year": 2006, "month": 9, "date": 4, "hours": 17, "minutes": 42}, {"year": 2006, "month": 9, "date": 4, "hours": 17, "minutes": 52}], "nice": false}, "axis": null},
    "y": {"field": "value", "type": "quantitative", "scale": {"domain": [-5.02, 43.29], "nice": false, "zero": false}, "axis": null},
    "text": {"field": "label"}
  }
}
]
}
